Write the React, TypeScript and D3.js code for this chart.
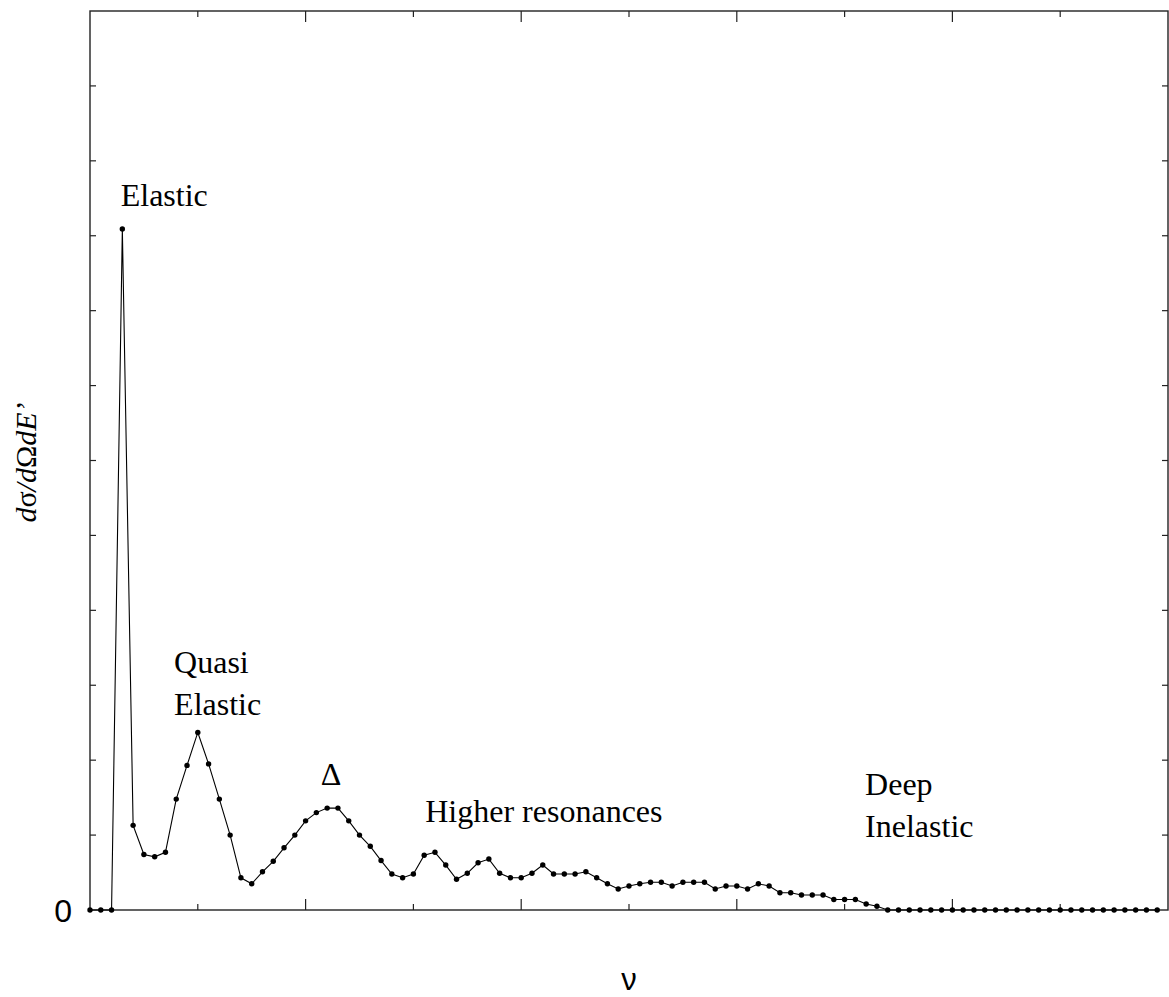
import React, { useEffect, useRef } from 'react';
import * as d3 from 'd3';

// cross section, one value per nu bin (0..99)
const crossSection = [
  0, 0, 0, 9.09, 1.13, 0.74, 0.71, 0.77, 1.48, 1.93,
  2.37, 1.95, 1.48, 1.0, 0.43, 0.35, 0.51, 0.65, 0.83, 1.0,
  1.19, 1.3, 1.36, 1.36, 1.19, 1.0, 0.85, 0.66, 0.48, 0.43,
  0.48, 0.73, 0.77, 0.6, 0.41, 0.49, 0.63, 0.68, 0.49, 0.43,
  0.43, 0.49, 0.6, 0.48, 0.48, 0.48, 0.51, 0.43, 0.35, 0.28,
  0.32, 0.35, 0.37, 0.37, 0.32, 0.37, 0.37, 0.37, 0.28, 0.32,
  0.32, 0.28, 0.35, 0.32, 0.23, 0.23, 0.2, 0.2, 0.2, 0.14,
  0.14, 0.14, 0.08, 0.05, 0, 0, 0, 0, 0, 0,
  0, 0, 0, 0, 0, 0, 0, 0, 0, 0,
  0, 0, 0, 0, 0, 0, 0, 0, 0, 0,
];

const xTicks = [10, 20, 30, 40, 50, 60, 70, 80, 90];
const yTicks = [1, 2, 3, 4, 5, 6, 7, 8, 9, 10, 11];
const yTickLabels = [{ v: 0, label: '0' }];

// region labels, anchored at (nu, value) of the first baseline
const regions = [
  { lines: ['Elastic'], nu: 2.85, val: 9.4 },
  { lines: ['Quasi', 'Elastic'], nu: 7.8, val: 3.16 },
  { lines: ['\u0394'], nu: 21.4, val: 1.67 },
  { lines: ['Higher resonances'], nu: 31.1, val: 1.17 },
  { lines: ['Deep', 'Inelastic'], nu: 71.9, val: 1.53 },
];

const serif = "'Liberation Serif', 'Times New Roman', Times, serif";
const sans = "'Liberation Sans', Arial, Helvetica, sans-serif";

export default function App() {
  const ref = useRef<SVGSVGElement>(null);

  useEffect(() => {
    const left = 90;
    const right = 1168;
    const top = 11;
    const bottom = 910;

    const svg = d3.select(ref.current);
    svg.selectAll('*').remove();

    const x = d3.scaleLinear().domain([0, 100]).range([left, right]);
    const y = d3.scaleLinear().domain([0, 12]).range([bottom, top]);

    const g = svg.append('g');

    // frame
    g.append('rect')
      .attr('x', left)
      .attr('y', top)
      .attr('width', right - left)
      .attr('height', bottom - top)
      .attr('fill', 'none')
      .attr('stroke', '#222')
      .attr('stroke-width', 1.4);

    // x ticks bottom + top, long ones every 20
    xTicks.forEach(t => {
      const len = t % 20 === 0 ? 11 : 6;
      g.append('line')
        .attr('x1', x(t)).attr('x2', x(t))
        .attr('y1', bottom).attr('y2', bottom - len)
        .attr('stroke', '#222').attr('stroke-width', 1.2);
      g.append('line')
        .attr('x1', x(t)).attr('x2', x(t))
        .attr('y1', top).attr('y2', top + len)
        .attr('stroke', '#222').attr('stroke-width', 1.2);
    });

    // y ticks left + right
    yTicks.forEach(t => {
      g.append('line')
        .attr('x1', left).attr('x2', left + 6)
        .attr('y1', y(t)).attr('y2', y(t))
        .attr('stroke', '#222').attr('stroke-width', 1.2);
      g.append('line')
        .attr('x1', right).attr('x2', right - 6)
        .attr('y1', y(t)).attr('y2', y(t))
        .attr('stroke', '#222').attr('stroke-width', 1.2);
    });

    g.selectAll('.ylab')
      .data(yTickLabels)
      .enter()
      .append('text')
      .attr('class', 'ylab')
      .attr('x', left - 18)
      .attr('y', d => y(d.v))
      .attr('dy', '0.36em')
      .attr('text-anchor', 'end')
      .style('font-family', sans)
      .style('font-size', '32px')
      .text(d => d.label);

    const line = d3
      .line<number>()
      .x((d, i) => x(i))
      .y(d => y(d));

    g.append('path')
      .attr('fill', 'none')
      .attr('stroke', '#000')
      .attr('stroke-width', 1.1)
      .attr('d', line(crossSection));

    g.selectAll('.dot')
      .data(crossSection)
      .enter()
      .append('circle')
      .attr('class', 'dot')
      .attr('cx', (d, i) => x(i))
      .attr('cy', d => y(d))
      .attr('r', 2.7)
      .attr('fill', '#000');

    // annotations
    regions.forEach(r => {
      const t = g.append('text')
        .attr('x', x(r.nu))
        .attr('y', y(r.val))
        .style('font-family', serif)
        .style('font-size', '32px');
      r.lines.forEach((l, i) => {
        t.append('tspan')
          .attr('x', x(r.nu))
          .attr('dy', i === 0 ? 0 : 41.5)
          .text(l);
      });
    });

    // axis titles
    svg.append('text')
      .attr('x', (left + right) / 2)
      .attr('y', 990)
      .attr('text-anchor', 'middle')
      .style('font-family', sans)
      .style('font-size', '31px')
      .text('\u03bd');

    const yt = svg.append('text')
      .attr('transform', `translate(36, ${(top + bottom) / 2 + 2}) rotate(-90)`)
      .attr('text-anchor', 'middle')
      .style('font-family', serif)
      .style('font-size', '30px');
    yt.append('tspan').style('font-style', 'italic').text('d');
    yt.append('tspan').text('\u03c3');
    yt.append('tspan').style('font-style', 'italic').text('/d');
    yt.append('tspan').text('\u03a9');
    yt.append('tspan').style('font-style', 'italic').text('dE\u2019');
  }, []);

  return (
    <svg
      ref={ref}
      width={1169}
      height={997}
      style={{ position: 'absolute', left: 0, top: 0, background: '#fff' }}
    />
  );
}
